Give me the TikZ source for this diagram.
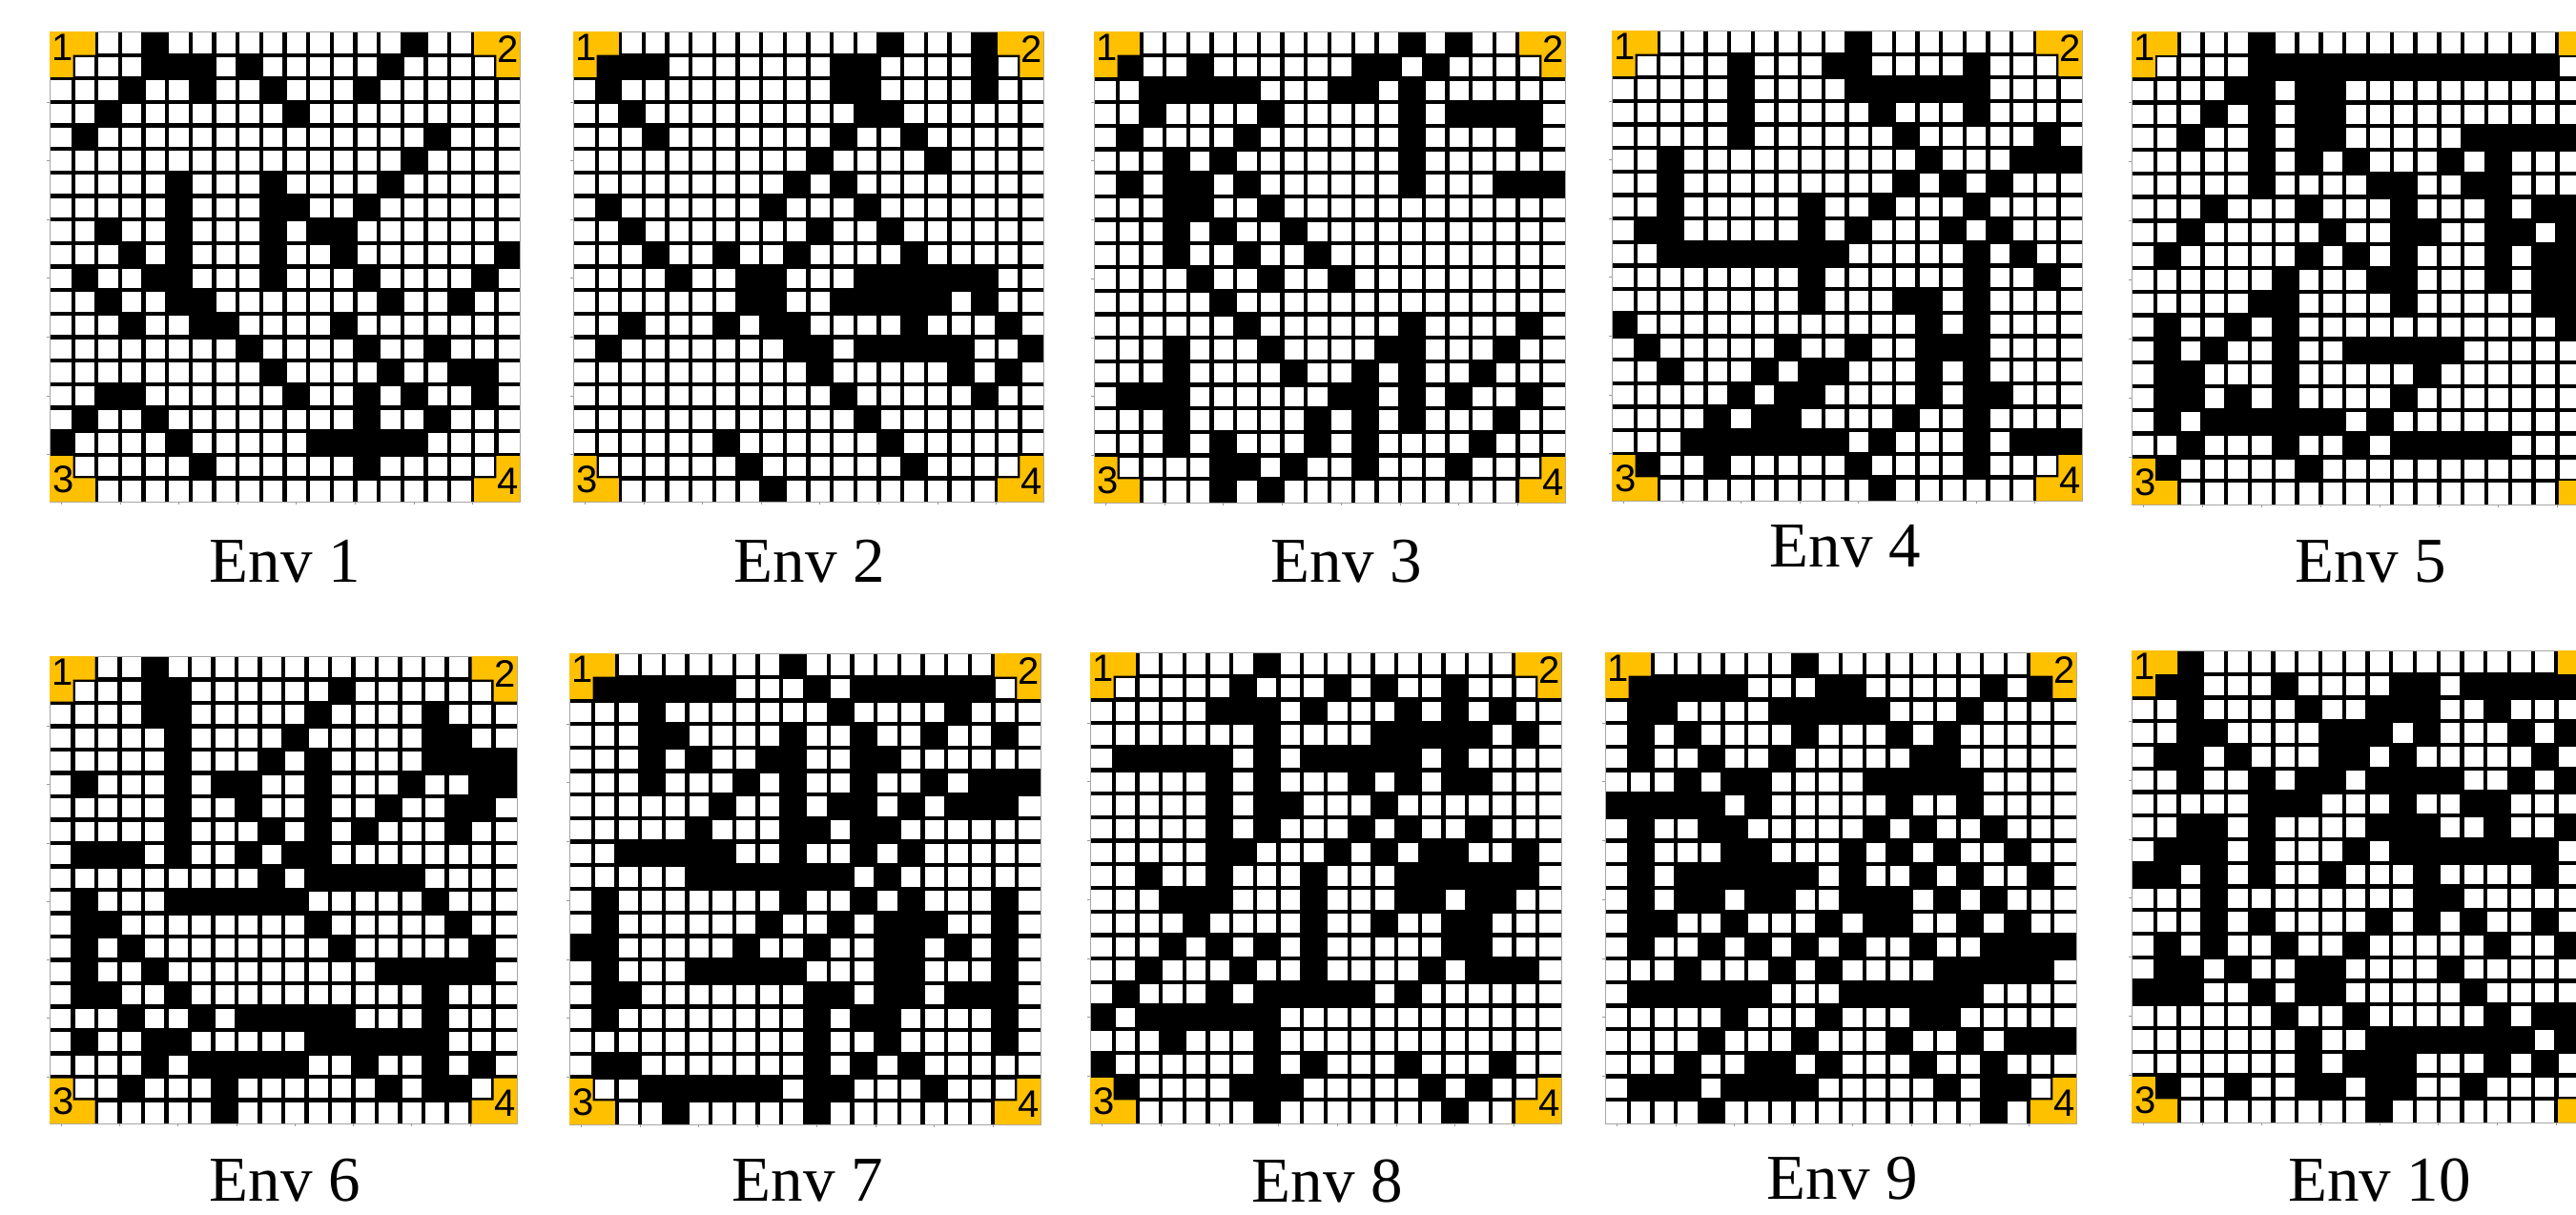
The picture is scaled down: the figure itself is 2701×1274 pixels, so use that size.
\documentclass[tikz,border=0pt]{standalone}
\usepackage{fontspec}
\setmainfont{Liberation Serif}
\newfontfamily\digfont{Liberation Sans}
\definecolor{ylw}{RGB}{255,192,0}
\tikzset{
  gridln/.style={line width=4.3pt, black},
  gborder/.style={line width=0.9pt, gray!70},
  tickln/.style={line width=0.8pt, gray!80},
  dig/.style={font=\digfont\fontsize{40}{40}\selectfont, inner sep=0pt, text=black},
  lbl/.style={font=\fontsize{67}{70}\selectfont, inner sep=0pt, anchor=base},
  blk/.style={fill=black},
  ylwfill/.style={fill=ylw}
}
\newcommand\cornA{%
  \fill[ylwfill] (0,0) -- ({2*\cellp-1.5},0) -- ({2*\cellp-1.5},\cellp) -- (\cellp,\cellp) -- (\cellp,{2*\cellp-1.5}) -- (0,{2*\cellp-1.5}) -- cycle;
  \node[dig] (\eid-d1) at ({0.55*\cellp},{0.68*\cellp}) {1};}
\newcommand\cornBshape{%
  \fill[ylwfill] ({20*\cellp},0) -- ({18*\cellp+1.5},0) -- ({18*\cellp+1.5},\cellp) -- ({19*\cellp},\cellp) -- ({19*\cellp},{2*\cellp-1.5}) -- ({20*\cellp},{2*\cellp-1.5}) -- cycle;}
\newcommand\cornB{\cornBshape
  \node[dig] (\eid-d2) at ({19.5*\cellp},{0.74*\cellp}) {2};}
\newcommand\cornC{%
  \fill[ylwfill] (0,{20*\cellp}) -- ({2*\cellp-1.5},{20*\cellp}) -- ({2*\cellp-1.5},{19*\cellp}) -- (\cellp,{19*\cellp}) -- (\cellp,{18*\cellp+1.5}) -- (0,{18*\cellp+1.5}) -- cycle;
  \node[dig] (\eid-d3) at ({0.6*\cellp},{19.05*\cellp}) {3};}
\newcommand\cornDshape{%
  \fill[ylwfill] ({20*\cellp},{20*\cellp}) -- ({18*\cellp+1.5},{20*\cellp}) -- ({18*\cellp+1.5},{19*\cellp}) -- ({19*\cellp},{19*\cellp}) -- ({19*\cellp},{18*\cellp+1.5}) -- ({20*\cellp},{18*\cellp+1.5}) -- cycle;}
\newcommand\cornD{\cornDshape
  \node[dig] (\eid-d4) at ({19.5*\cellp},{19.15*\cellp}) {4};}
% #1 id, #2 x0, #3 y0, #4 pitch, #5 black cells, #6 corners
\newcommand\envgrid[6]{%
  \begin{scope}[shift={(#2,#3)}]
    \def\eid{#1}\def\cellp{#4}
    \fill[white] (0,0) rectangle ({20*\cellp},{20*\cellp});
    \foreach \rowi/\rowcells in {#5}{%
      \foreach \coli in \rowcells{%
        \fill[blk] ({\coli*\cellp},{\rowi*\cellp}) rectangle ({(\coli+1)*\cellp},{(\rowi+1)*\cellp});}}
    \foreach \kk in {1,...,19}{%
      \draw[gridln] ({\kk*\cellp},0) -- ({\kk*\cellp},{20*\cellp});
      \draw[gridln] (0,{\kk*\cellp}) -- ({20*\cellp},{\kk*\cellp});}
    \draw[gborder] (0,0) rectangle ({20*\cellp},{20*\cellp});
    \foreach \tk in {0.5,3,5.5,8,10.5,13,15.5,18}{\draw[tickln] ({\tk*\cellp},{20*\cellp}) -- ++(0,3);}
    \foreach \tk in {3,5.5,8,10.5,13,15.5,18}{\draw[tickln] (0,{\tk*\cellp}) -- ++(-3,0);}
    #6
  \end{scope}}
\begin{document}
\begin{tikzpicture}[x=1pt,y=-1pt]
\useasboundingbox (0,0) rectangle (2701,1274);
\fill[white] (0,0) rectangle (2701,1274);
\clip (0,0) rectangle (2701,1274);

\envgrid{e1}{52}{33}{24.65}{0/{4,15},1/{4,5,6,8,14},2/{3,6,9,13},3/{2,10},4/{1,16},5/{15},6/{5,9,14},7/{5,9,10,13},8/{2,5,9,11,12},9/{3,5,9,12,19},10/{1,4,5,9,13,18},11/{2,5,6,14,17},12/{3,6,7,12},13/{8,13,16},14/{9,14,17,18},15/{2,3,10,13,15,18},16/{1,4,13,16},17/{0,5,11,12,13,14,15},18/{6,13}}{\cornA\cornB\cornC\cornD}

\envgrid{e2}{601}{33}{24.65}{0/{13,17},1/{1,2,3,11,12,17},2/{1,11,12,17},3/{2,12,13},4/{3,11,14},5/{10,15},6/{9,11},7/{1,8,12},8/{2,10,13},9/{3,6,9,14},10/{4,7,8,12,13,14,15,16,17},11/{7,8,11,12,13,14,15,17},12/{2,6,8,9,14,18},13/{1,9,10,12,13,14,15,16,19},14/{10,16,18},15/{11,17},16/{12},17/{6,13},18/{7,14},19/{8}}{\cornA\cornB\cornC\cornD}

\envgrid{e3}{1147}{33}{24.7}{0/{13,15},1/{1,4,11,12,14},2/{2,3,4,5,6,10,11,13},3/{2,7,13,15,16,17,18},4/{1,6,13,18},5/{3,5,13},6/{1,3,4,6,13,17,18,19},7/{3,4,7},8/{3,5,8},9/{3,6,9},10/{4,7,10},11/{5},12/{6,13,18},13/{3,7,12,13,17},14/{3,8,11,13,16},15/{1,2,3,10,11,13,15,18},16/{3,9,11,13,17},17/{3,5,9,11,16},18/{5,6,8,11,15},19/{5,7}}{\cornA\cornB\cornC\cornD}

\envgrid{e4}{1690}{32}{24.65}{0/{10},1/{5,9,10,15},2/{5,10,11,12,13,14,15},3/{5,11,15},4/{5,12,18},5/{2,13,17,18,19},6/{2,12,14,16},7/{2,8,11,15},8/{1,2,8,10,14,16},9/{2,3,4,5,6,7,8,9,15,17},10/{8,15,18},11/{8,12,13,15},12/{0,13,15},13/{1,7,10,13,14,15},14/{2,6,8,9,13,15},15/{5,7,8,13,15,16},16/{4,6,7,12,15},17/{3,4,5,6,7,8,9,11,15,17,18,19},18/{1,4,10,15},19/{11}}{\cornA\cornB\cornC\cornD}

\envgrid{e5}{2235}{33}{24.8}{0/{5},1/{5,6,7,8,9,10,11,12,13,14,15,16,17},2/{4,5,7,8},3/{3,5,7,8},4/{2,5,7,8,14,15,16,17,18,19},5/{5,7,9,13,15},6/{5,10,11,14,15},7/{3,7,11,15,17,18},8/{2,8,11,12,15,16,18},9/{1,7,9,11,15,17,18},10/{6,10,11,15,17,18},11/{5,6,11,17,18},12/{1,4,6,18},13/{1,3,6,9,10,11,12,13},14/{1,2,6,12},15/{1,2,4,6,11},16/{1,3,4,5,6,7,8,10},17/{2,6,9,11,12,13,14,15},18/{1,7}}{\cornA\cornBshape\cornC\cornDshape}

\envgrid{e6}{52}{688}{24.5}{0/{4},1/{4,5,12},2/{4,5,11,16},3/{5,10,16,17},4/{5,9,11,16,17,18,19},5/{1,5,7,8,11,15,18,19},6/{5,8,11,14,17,18},7/{5,9,11,13,17},8/{1,2,3,5,8,10,11},9/{9,11,12,13,14,15},10/{1,5,6,7,8,9,10,16},11/{1,2,11,17},12/{1,3,12,18},13/{1,4,14,15,16,17,18},14/{1,2,5,16},15/{3,6,8,9,10,11,12,16},16/{1,4,5,11,12,13,14,15,16},17/{4,6,7,8,9,10,13,16,18},18/{3,7,14,16,17},19/{7}}{\cornA\cornB\cornC\cornD}

\envgrid{e7}{597}{685}{24.7}{0/{9},1/{1,2,3,4,5,6,10,12,13,14,15,16,17},2/{3,11,16},3/{3,4,9,12,15,18},4/{3,5,8,9,12,13},5/{3,7,9,12,15,17,18,19},6/{6,9,11,12,14,16,17,18},7/{5,9,10,12,13},8/{2,3,4,5,6,9,12,14},9/{5,6,7,8,9,10,11,13},10/{1,9,12,14,18},11/{1,8,11,13,14,15,18},12/{0,1,7,10,13,14,16,18},13/{1,5,6,7,8,9,13,14,18},14/{1,2,10,11,13,14,16,17,18},15/{1,10,12,13,18},16/{10,13,18},17/{1,2,10,12,14},18/{3,4,5,6,7,8,10,11,15},19/{4,10}}{\cornA\cornB\cornC\cornD}

\envgrid{e8}{1143}{684}{24.7}{0/{7},1/{6,10,12,15},2/{5,6,7,9,13,15,17},3/{7,12,13,14,15,16,18},4/{1,2,3,4,5,7,9,10,11,12,13,15},5/{5,7,11,13,15,16},6/{5,7,8,12},7/{5,7,11,13,16},8/{5,6,10,12,14,15,18},9/{2,5,9,13,14,15,16,17,18},10/{3,4,5,9,13,14,16,17},11/{4,9,12,15,16},12/{3,5,7,9,15,16},13/{2,6,9,14,16,17,18},14/{1,5,7,8,9,10,11,13},15/{0,2,3,4,5,6,7},16/{3,7},17/{0,7,9,13,17},18/{1,6,7,8,14,16},19/{7,15}}{\cornA\cornB\cornC\cornD}

\envgrid{e9}{1683}{684}{24.7}{0/{8},1/{1,2,3,4,5,9,10,16,18},2/{1,2,7,8,9,10,11,15},3/{1,3,8,12,14},4/{1,4,7,13,14},5/{3,5,6,11,12,13,14,15},6/{0,1,2,3,4,6,12,15},7/{1,4,5,11,13,16},8/{1,5,6,10,12,14,17},9/{1,3,4,5,6,7,8,10,13,15,18},10/{1,3,4,6,7,10,11,12,14,16},11/{1,2,5,9,11,12,15,17},12/{1,4,6,8,10,13,16,17,18,19},13/{3,7,9,14,15,16,17,18},14/{1,2,3,4,5,6,10,11,12,13,14,15},15/{5,9,13,14},16/{4,8,12,15,17,18,19},17/{3,6,7,9,13,16},18/{1,2,3,5,6,7,8,14,16,17},19/{4,16}}{\cornA\cornB\cornD}

\envgrid{e10}{2235}{682}{24.75}{0/{2},1/{1,2,6,11,12,14,15,16,17,18,19},2/{2,7,10,11,12,15},3/{2,3,8,9,10,12,16,18},4/{1,2,4,8,9,11,17},5/{2,5,7,8,10,11,12,13,16,18},6/{5,6,7,11,14,15},7/{2,3,5,10,11,12,15,18},8/{1,2,3,5,9,11,12,13,14,15,16,17},9/{0,1,3,5,8,12,17},10/{3,12,13},11/{3,5,10,12,14,17},12/{1,3,6,9,15,18},13/{1,2,4,7,8,13},14/{0,1,2,5,7,8,14},15/{6,9,15,17,18},16/{7,10,11,12,13,14,15,16,18},17/{7,9,10,11,15,17},18/{1,4,7,8,10,11,14},19/{10}}{\cornA\cornBshape\cornC\cornDshape}

\node[lbl] (lab1) at (299,610) {Env 1};
\node[lbl] (lab2) at (849,610) {Env 2};
\node[lbl] (lab3) at (1412,610) {Env 3};
\node[lbl] (lab4) at (1935,594) {Env 4};
\node[lbl] (lab5) at (2486,610) {Env 5};
\node[lbl] (lab6) at (299,1259) {Env 6};
\node[lbl] (lab7) at (847,1259) {Env 7};
\node[lbl] (lab8) at (1392,1260) {Env 8};
\node[lbl] (lab9) at (1932,1257) {Env 9};
\node[lbl] (lab10) at (2495,1259) {Env 10};
\end{tikzpicture}
\end{document}
